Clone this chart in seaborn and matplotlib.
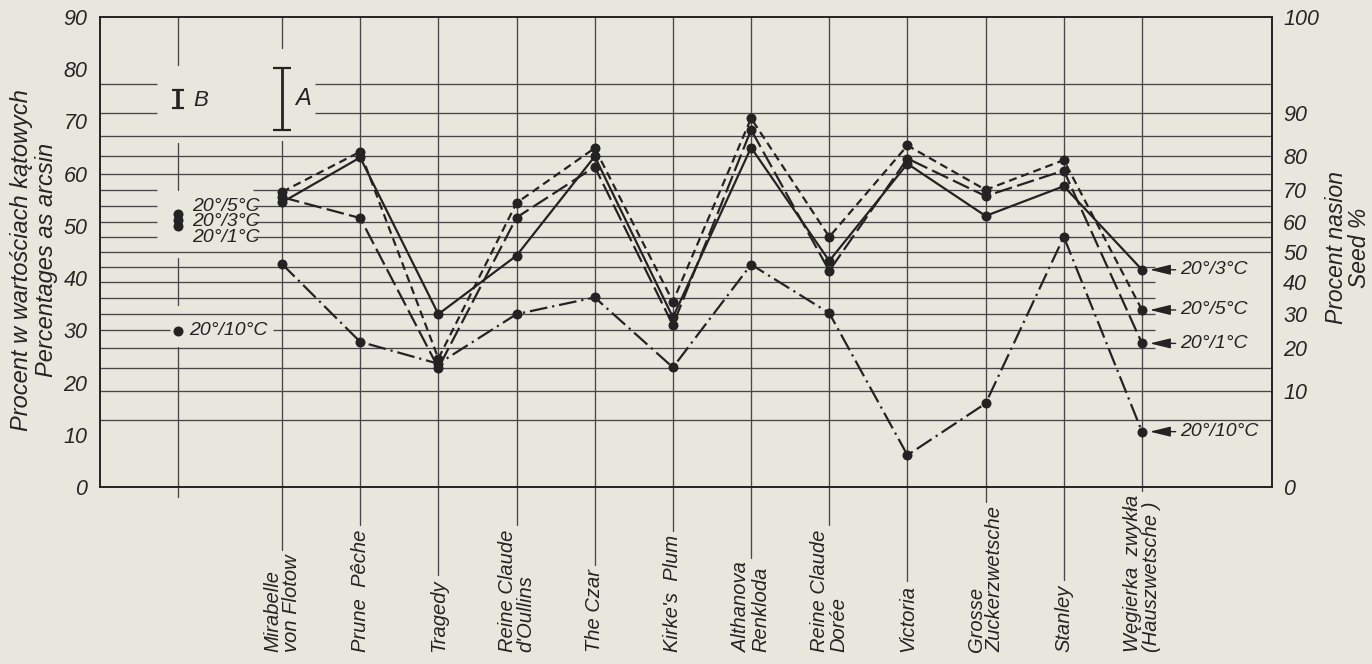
import numpy as np
import pandas as pd
import matplotlib
matplotlib.use("Agg")
import matplotlib.pyplot as plt
import seaborn as sns

# ---- data: germination of plum seeds, arcsin-transformed percentages ----
varieties = [
    "Mirabelle\nvon Flotow", "Prune  Pêche", "Tragedy", "Reine Claude\nd'Oullins",
    "The Czar", "Kirke's  Plum", "Althanova\nRenkloda", "Reine Claude\nDorée",
    "Victoria", "Grosse\nZuckerzwetsche", "Stanley", "Węgierka  zwykła\n(Hauszwetsche )",
]
treatments = ["20°/5°C", "20°/3°C", "20°/1°C", "20°/10°C"]
t_5 = [56.5, 64.2, 24.6, 54.4, 64.9, 35.5, 70.6, 47.9, 65.4, 56.9, 62.6, 33.9]
t_3 = [54.5, 63.1, 33.1, 44.3, 63.3, 32.5, 65.0, 43.3, 61.9, 51.9, 57.6, 41.6]
t_1 = [55.5, 51.5, 22.8, 51.6, 61.3, 31.0, 68.4, 41.4, 62.9, 55.7, 60.6, 27.5]
t_10 = [42.7, 27.8, 23.6, 33.1, 36.3, 22.9, 42.6, 33.3, 6.1, 16.0, 47.9, 10.6]
treatment_means = [52.2, 51.1, 50.0, 29.9]
lsd_center = 74.3
lsd_a = 11.7   # varieties
lsd_b = 3.3    # treatments
arcsin_ticks = list(range(0, 91, 10))
seed_ticks = list(range(0, 101, 10))
seed_grid = list(range(5, 100, 5))

INK = "#232323"
GRID = "#474747"
PAPER = "#e8e7de"

sns.set_theme(style="white")
plt.rcParams["font.family"] = ["Liberation Sans Narrow", "Liberation Sans", "DejaVu Sans"]
plt.rcParams["font.style"] = "italic"
plt.rcParams["text.color"] = INK

def to_deg(p):
    return np.degrees(np.arcsin(np.sqrt(np.asarray(p, dtype=float) / 100.0)))

fig = plt.figure(figsize=(13.72, 6.64), dpi=100, facecolor=PAPER)
ax = fig.add_axes([100 / 1372, 177 / 664, 1172 / 1372, 470 / 664])
ax.set_facecolor(PAPER)
n = len(varieties)
XMIN, XMAX = -2.328, 12.663
MEAN_X = -1.33
ax.set_xlim(XMIN, XMAX)
ax.set_ylim(0, 90)

# ---- horizontal grid on the seed-percentage (arcsin) scale, with gaps for labels ----
left_gaps = {95: (-1.60, 0.42), 90: (-1.60, 0.42),
             70: (-1.60, -0.37), 65: (-1.60, -0.37), 60: (-1.60, -0.37), 55: (-1.60, -0.37),
             25: (-1.43, -0.12)}
right_end = {45: 11.17, 40: 11.17, 35: 11.17, 30: 11.17, 25: 11.17, 20: 11.17}
for p in seed_grid:
    y = float(to_deg(p))
    end = right_end.get(p, XMAX)
    if p in left_gaps:
        g0, g1 = left_gaps[p]
        ax.hlines(y, XMIN, g0, color=GRID, lw=0.95, zorder=1)
        ax.hlines(y, g1, end, color=GRID, lw=0.95, zorder=1)
    else:
        ax.hlines(y, XMIN, end, color=GRID, lw=0.95, zorder=1)

# vertical line through the column of treatment means
for y0, y1 in [(80.8, 90), (56.9, 65.9), (34.9, 43.9), (-1.9, 26.8)]:
    ax.plot([MEAN_X, MEAN_X], [y0, y1], color=GRID, lw=0.95, zorder=1, clip_on=False)

# ---- series ----
df = pd.DataFrame({
    "pos": np.tile(np.arange(n), len(treatments)),
    "value": t_5 + t_3 + t_1 + t_10,
    "treatment": np.repeat(treatments, n),
})
dash_map = {"20°/5°C": (3.6, 2.2), "20°/3°C": "", "20°/1°C": (8, 2.4), "20°/10°C": (8, 2.2, 1, 2.2)}
marker_map = {t: "o" for t in treatments}
sns.lineplot(data=df, x="pos", y="value", style="treatment", style_order=treatments,
             dashes=dash_map, markers=marker_map, color=INK, lw=1.6, markersize=7.2,
             markeredgecolor=INK, markeredgewidth=0, legend=False, sort=False,
             ax=ax, zorder=5)
sns.scatterplot(x=[MEAN_X] * len(treatment_means), y=treatment_means, color=INK,
                s=52, edgecolor=INK, linewidth=0, ax=ax, zorder=5, legend=False)

# LSD bars
ax.errorbar([0], [lsd_center], yerr=[lsd_a / 2], fmt="none", ecolor=INK,
            elinewidth=2.0, capsize=6.5, capthick=1.6, zorder=5)
ax.errorbar([MEAN_X], [lsd_center], yerr=[lsd_b / 2], fmt="none", ecolor=INK,
            elinewidth=2.6, capsize=4.5, capthick=1.6, zorder=5)
ax.text(0.17, lsd_center, "A", fontsize=17, ha="left", va="center")
ax.text(-1.13, lsd_center - 0.3, "B", fontsize=16, ha="left", va="center")

# legend text beside the means
for label, p in zip(treatments[:3], [65, 60, 55]):
    ax.text(-1.15, float(to_deg(p)), label, fontsize=14, ha="left", va="center")
ax.text(-1.19, treatment_means[3], treatments[3], fontsize=14, ha="left", va="center")

# labels with arrows at the last variety
for label, series in zip(treatments, [t_5, t_3, t_1, t_10]):
    v = series[-1]
    ax.annotate(label, xy=(11.10, v), xytext=(11.49, v), fontsize=14,
                ha="left", va="center",
                arrowprops=dict(arrowstyle="-|>,head_length=0.9,head_width=0.22",
                                color=INK, lw=1.0, shrinkA=1, shrinkB=0))

# ---- axes, ticks, frame ----
ax.set_xticks([])
ax.set_yticks(arcsin_ticks)
ax.set_yticklabels([str(t) for t in arcsin_ticks], fontsize=15.5)
ax.tick_params(axis="y", length=0, pad=9)
ax.set_xlabel("")
ax.set_ylabel("")
for s in ax.spines.values():
    s.set_color(INK)
    s.set_linewidth(1.4)
    s.set_visible(True)

ax2 = ax.twinx()
ax2.set_ylim(0, 90)
ax2.set_yticks(to_deg(seed_ticks))
ax2.set_yticklabels([str(t) for t in seed_ticks], fontsize=15.5)
ax2.tick_params(axis="y", length=0, pad=8)
for s in ax2.spines.values():
    s.set_visible(False)

fig.text(0.0245, (664 - 260) / 664, "Procent w wartościach kątowych\nPercentages as arcsin",
         rotation=90, ha="center", va="center", fontsize=17, multialignment="center",
         linespacing=1.1)
fig.text(0.9825, (664 - 248) / 664, "Procent nasion\nSeed %", rotation=90,
         ha="center", va="center", fontsize=16.5, multialignment="center", linespacing=1.05)

# ---- variety names below the frame, joined to their vertical lines ----
LABEL_BASE = -31.6
texts = []
for i, name in enumerate(varieties):
    texts.append(ax.text(i, LABEL_BASE, name, rotation=90, ha="center", va="bottom",
                         fontsize=14.5, multialignment="left", linespacing=1.0,
                         clip_on=False))
fig.canvas.draw()
renderer = fig.canvas.get_renderer()
inv = ax.transData.inverted()
for i, t in enumerate(texts):
    bb = t.get_window_extent(renderer)
    y_top = inv.transform((0, bb.y1))[1] + 0.8
    if i == 0:
        ax.plot([i, i], [84.1, 90], color=GRID, lw=0.95, zorder=1)
        ax.plot([i, i], [y_top, 66.3], color=GRID, lw=0.95, zorder=1, clip_on=False)
    else:
        ax.plot([i, i], [y_top, 90], color=GRID, lw=0.95, zorder=1, clip_on=False)

fig.savefig("out.png", dpi=100, facecolor=PAPER)
